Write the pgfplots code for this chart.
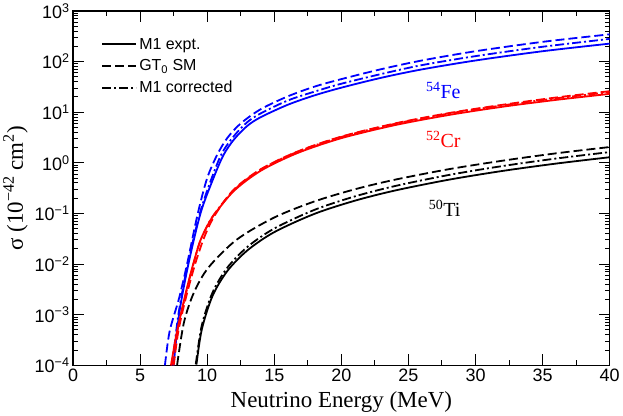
\documentclass[border=0pt]{standalone}
\usepackage{fontspec}
\setmainfont{Liberation Serif}
\newfontfamily\arial{Liberation Sans}
\usepackage{pgfplots}
\pgfplotsset{compat=1.18}
\begin{document}
\begin{tikzpicture}
\begin{axis}[
  width=536bp, height=354bp, scale only axis,
  xmin=0, xmax=40, ymin=1e-4, ymax=1e3,
  ymode=log,
  xtick={0,5,...,40}, minor x tick num=1,
  ytick={1e-4,1e-3,1e-2,1e-1,1,10,100,1000},
  yticklabels={10\textsuperscript{−4},10\textsuperscript{−3},10\textsuperscript{−2},10\textsuperscript{−1},10\textsuperscript{0},10\textsuperscript{1},10\textsuperscript{2},10\textsuperscript{3}},
  tick align=inside,
  major tick length=11bp, minor tick length=5bp,
  axis line style={line width=1.6bp},
  every tick/.style={black, line width=1bp},
  tick label style={font=\arial\fontsize{18}{18}\selectfont},
  /pgf/number format/assume math mode=true,
  xlabel={Neutrino Energy (MeV)},
  ylabel={σ (10\textsuperscript{−42} cm\textsuperscript{2})},
  label style={font=\fontsize{23}{23}\selectfont},
  xlabel style={yshift=-3bp},
  legend style={draw=none, fill=none, at={(axis description cs:0.047,0.935)}, anchor=north west,
    font=\arial\fontsize{16}{16}\selectfont, row sep=5bp},
  legend cell align=left,
  legend image code/.code={\draw[#1] (0bp,0bp) -- (34bp,0bp);},
  every axis plot/.append style={line width=1.8bp},
]
\addlegendimage{black, solid}
\addlegendentry{M1 expt.}
\addlegendimage{black, dash pattern=on 9bp off 4bp}
\addlegendentry{GT\textsubscript{0} SM}
\addlegendimage{black, dash pattern=on 9bp off 3bp on 2bp off 3bp}
\addlegendentry{M1 corrected}

% 54Fe
\addplot[blue, smooth, forget plot] coordinates {
(7.5,1e-4)(7.9,1e-3)(8.6,1e-2)(9.5,0.1)(10.4,0.45)(11.2,1.4)(12,2.9)(13,5.4)(14,8.0)(16,14)(18,21.5)(20,30.5)(23,48)(26,70)(30,105)(35,160)(40,226)};
\addplot[blue, smooth, dash pattern=on 9bp off 4bp, forget plot] coordinates {
(6.85,1e-4)(7.2,4.7e-4)(7.9,2.1e-3)(8.5,1e-2)(9.3,0.1)(10.0,0.5)(10.75,1.45)(11.5,3.1)(12.5,6.0)(14,11.5)(16,20.5)(18,32)(20,45)(23,71)(26,105)(30,160)(35,245)(40,345)};
\addplot[blue, smooth, dash pattern=on 9bp off 3bp on 2bp off 3bp, forget plot] coordinates {
(7.4,1e-4)(7.85,1e-3)(8.55,1e-2)(9.45,0.1)(10.3,0.47)(11.1,1.55)(12,3.4)(13,6.4)(14,9.5)(16,17)(18,25.5)(20,36.5)(23,57)(26,85)(30,128)(35,196)(40,280)};

% 52Cr
\addplot[red, smooth, forget plot] coordinates {
(7.3,1e-4)(7.7,4e-4)(8.2,1.6e-3)(8.75,6.3e-3)(9.4,0.025)(9.9,0.05)(10.5,0.093)(12,0.28)(14,0.7)(16.7,1.55)(20,3.07)(24,5.56)(28,8.8)(32,12.8)(36,17.5)(40,23)};
\addplot[red, smooth, dash pattern=on 9bp off 4bp, forget plot] coordinates {
(7.5,1e-4)(7.85,4.7e-4)(8.4,2.1e-3)(9.1,1e-2)(9.8,0.035)(10.6,0.095)(12,0.3)(14,0.75)(16.7,1.66)(20,3.3)(24,6.0)(28,9.6)(32,14)(36,19.5)(40,26)};
\addplot[red, smooth, dash pattern=on 9bp off 3bp on 2bp off 3bp, forget plot] coordinates {
(7.35,1e-4)(7.7,3.8e-4)(8.2,1.5e-3)(8.75,6e-3)(9.4,0.025)(9.9,0.05)(10.5,0.095)(12,0.29)(14,0.74)(16.7,1.64)(20,3.25)(24,5.9)(28,9.4)(32,13.6)(36,18.8)(40,24.8)};

% 50Ti
\addplot[black, smooth, forget plot] coordinates {
(9.2,1.04e-4)(9.6,5.15e-4)(10.4,2.36e-3)(11.5,7.3e-3)(13,0.0187)(15,0.0428)(18,0.0984)(21,0.1785)(24,0.284)(28,0.464)(32,0.691)(36,0.966)(40,1.29)};
\addplot[black, smooth, dash pattern=on 9bp off 4bp, forget plot] coordinates {
(7.76,1.02e-4)(8.26,6.9e-4)(9.0,2.7e-3)(10.1,8.6e-3)(12.2,0.0304)(15,0.0833)(18,0.173)(21,0.30)(24,0.465)(28,0.748)(32,1.10)(36,1.54)(40,2.05)};
\addplot[black, smooth, dash pattern=on 9bp off 3bp on 2bp off 3bp, forget plot] coordinates {
(9.15,1.05e-4)(9.6,6.2e-4)(10.4,2.75e-3)(11.5,8.5e-3)(13,0.0219)(15,0.0505)(18,0.118)(21,0.217)(24,0.348)(28,0.575)(32,0.863)(36,1.215)(40,1.63)};

\node[blue, font=\fontsize{20}{20}\selectfont] at (axis cs:27.6,27) {\textsuperscript{54}Fe};
\node[red, font=\fontsize{20}{20}\selectfont] at (axis cs:27.6,2.9) {\textsuperscript{52}Cr};
\node[black, font=\fontsize{20}{20}\selectfont] at (axis cs:27.7,0.125) {\textsuperscript{50}Ti};
\end{axis}
\end{tikzpicture}
\end{document}
